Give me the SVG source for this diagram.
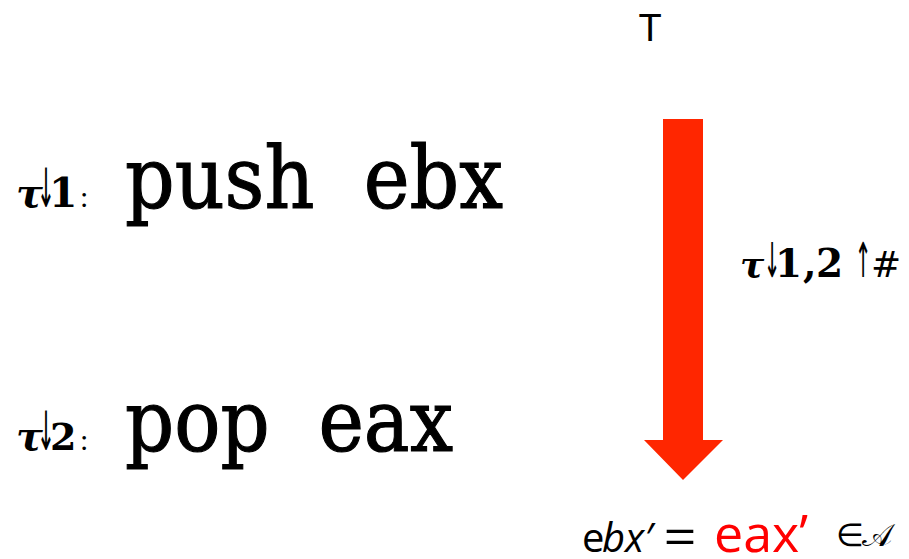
<svg xmlns="http://www.w3.org/2000/svg" width="909" height="559" viewBox="0 0 909 559">
<style>
.code{font-family:"DejaVu Serif","Liberation Serif",serif;font-size:86px;fill:#000;stroke:#000;stroke-width:1.2px}
.lab{font-family:"DejaVu Serif","Liberation Serif",serif;font-weight:bold;fill:#000}
.arr{font-family:"DejaVu Sans",sans-serif;font-size:40px;fill:#000;text-anchor:middle}
.colon{font-family:"Liberation Serif",serif;font-size:30px;fill:#000}
.sans{font-family:"Open Sans","Noto Sans","Liberation Sans",sans-serif;fill:#000}
</style>
<rect width="909" height="559" fill="#fff"/>
<g id="instr1">
<text class="lab" x="16" y="207" font-size="40" font-style="italic">τ</text>
<text class="arr" transform="translate(46,207) scale(0.55,1.35)">↓</text>
<text class="lab" x="49" y="207" font-size="41">1</text>
<text class="colon" x="80" y="207">:</text>
<text class="code" x="125" y="208" textLength="378" lengthAdjust="spacingAndGlyphs" xml:space="preserve">push  ebx</text>
</g>
<g id="instr2">
<text class="lab" x="16" y="450" font-size="40" font-style="italic">τ</text>
<text class="arr" transform="translate(46,450) scale(0.55,1.35)">↓</text>
<text class="lab" x="50" y="450" font-size="38">2</text>
<text class="colon" x="80" y="450">:</text>
<text class="code" x="125" y="451" textLength="328" lengthAdjust="spacingAndGlyphs" xml:space="preserve">pop  eax</text>
</g>
<g id="top">
<text x="650" y="41" text-anchor="middle" font-family="Liberation Sans,Arial,sans-serif" font-size="38" fill="#000">T</text>
</g>
<g id="connectors">
<polygon points="663,119 703,119 703,440 723,440 683,480 644,440 663,440" fill="#ff2600"/>
<g id="edge-label">
<text class="lab" x="740" y="277" font-size="36" font-style="italic">τ</text>
<text class="arr" transform="translate(772,277) scale(0.5,1.2)">↓</text>
<text class="lab" y="277" font-size="39"><tspan x="775">1</tspan><tspan x="803">,</tspan><tspan x="816">2</tspan></text>
<text class="arr" transform="translate(863,277) scale(0.5,1.2)">↑</text>
<text x="871" y="277" font-family="DejaVu Sans,sans-serif" font-size="36" fill="#000">#</text>
</g>
</g>
<g id="result">
<text class="sans" y="552" font-size="40"><tspan x="582">e</tspan><tspan x="602" font-style="italic">bx′</tspan></text>
<text x="664" y="552" textLength="32" lengthAdjust="spacingAndGlyphs" font-family="Liberation Sans,Arial,sans-serif" font-size="44" fill="#000">=</text>
<text class="sans" x="714" y="552" font-size="52" style="fill:#ff0000">eax’</text>
<text y="546" font-family="DejaVu Sans,Noto Sans,sans-serif" font-size="32" fill="#000"><tspan x="836">∈</tspan><tspan x="862">𝒜</tspan></text>
</g>
</svg>
